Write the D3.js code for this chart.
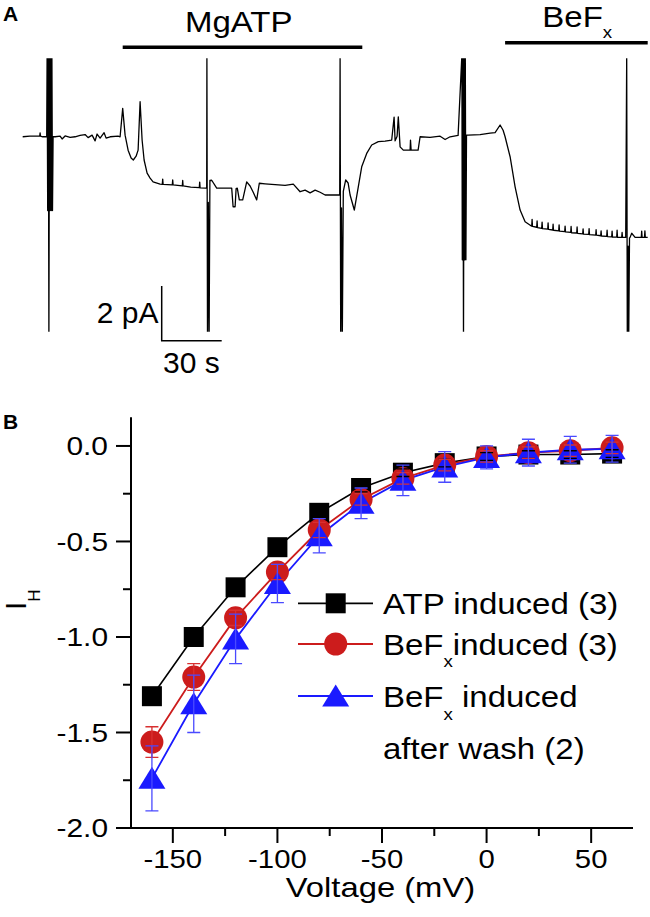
<!DOCTYPE html>
<html><head><meta charset="utf-8">
<script src="https://cdn.jsdelivr.net/npm/d3@7"></script>
<style>
html,body{margin:0;padding:0;background:#fff;}
svg{display:block;font-family:"Liberation Sans",Arial,Helvetica,sans-serif;}
</style></head>
<body>
<svg id="chart" width="650" height="917"></svg>
<script>
// ---------- Panel A: current trace (time s, current pA) ----------
const traceT = [0,3.6,8.5,8.7,8.9,10,12.0,12.2,12.5,12.8,13.1,13.4,13.7,14.0,14.3,14.6,14.9,15.2,16.2,18.7,19.7,21.2,23.7,26.2,28.7,31.2,32.7,34.7,36.2,37.2,38.7,40.7,41.7,43.7,47.7,48.7,
 50,51.2,52.7,54.2,55.3,56.7,57.7,58.7,59.7,60.7,62.2,63.7,65.2,68.7,69.8,70,70.2,74.8,75,75.2,79.8,80,80.2,84,86.2,88.3,88.5,88.7,91.5,
 92.0,92.1,92.4,92.8,93.2,93.6,94.5,97,104.5,105.2,106.2,106.7,107.3,108.3,110,112,113.7,115.2,117,118.3,121.2,126.2,131.2,135.3,138.7,141.2,143.7,146.2,148.7,151.2,153.7,158.5,
 158.7,159.0,159.4,159.8,160.3,161.5,162.7,163.7,165.8,167.8,169.5,172,174.5,177.8,181.2,184.5,185.7,186.2,187.2,187.8,188.7,190.3,193.7,193.9,194.2,197.7,198.7,203.7,208.7,211.2,213.7,217.7,
 219.6,219.8,220.1,220.4,220.7,221.0,221.3,221.6,221.9,222.7,228.7,233.7,236.2,238.7,240.2,241.2,243.7,246.2,248.7,251.2,
 254.5,254.7,254.9,257.0,257.2,257.4,259.5,259.7,259.9,262.5,262.7,262.9,265.0,265.2,265.4,268.0,268.2,268.4,271.0,271.2,271.4,274.0,274.2,274.4,277.0,277.2,277.4,280.0,280.2,280.4,283.0,283.2,283.4,286.5,286.7,286.9,289.0,289.2,289.4,292.0,292.2,292.4,294.5,294.7,294.9,297.0,297.2,297.4,299.5,299.7,299.9,301.5,
 302.0,302.3,302.7,303.0,303.4,303.7,304.5,306.2,309.3,309.5,309.7,310.9,311.1,311.3,312.5];
const traceI = [0,0.02,0.02,0.14,0.02,0,0,3,-2.7,3,-7.5,3,-2.7,3,-2.7,3,-2.7,0,0,0.02,-0.08,0.03,-0.02,0,0.05,0.08,-0.03,0.06,-0.15,0.1,-0.05,0.15,-0.05,0,0.02,0,
 1.04,0.06,-0.49,-0.78,-0.85,-0.71,-0.49,1.28,-0.12,-0.85,-1.33,-1.51,-1.65,-1.73,-1.74,-1.55,-1.74,-1.76,-1.58,-1.76,-1.8,-1.6,-1.8,-1.84,-1.85,-1.86,-1.66,-1.87,-1.88,
 -1.88,3,-7.5,-2.4,-7.5,-1.6,-1.59,-1.88,-1.88,-2.56,-2.56,-1.9,-1.88,-2.31,-2.31,-1.65,-1.8,-2.02,-2.31,-1.7,-1.72,-1.75,-1.78,-1.73,-2.01,-1.95,-2.05,-1.95,-2.03,-2.13,-2.13,-2.13,
 3,-7.5,-2.6,-7.5,-2,-1.58,-1.69,-2.13,-2.68,-1.83,-1.1,-0.61,-0.3,-0.18,-0.16,-0.12,0.72,-0.15,0.02,0.73,-0.37,-0.49,-0.49,-0.12,-0.49,-0.49,0,-0.02,0.02,-0.1,0,0.05,
 3,-4.5,3,-7.5,3,-4.5,3,-4.5,0.06,0.06,0.08,0.13,0.15,0.43,0.24,0,-0.73,-1.83,-2.68,-3.11,
 -3.27,-3.02,-3.28,-3.31,-3.08,-3.32,-3.35,-3.12,-3.36,-3.38,-3.15,-3.39,-3.41,-3.2,-3.42,-3.44,-3.22,-3.45,-3.47,-3.27,-3.48,-3.5,-3.28,-3.51,-3.52,-3.3,-3.53,-3.55,-3.37,-3.56,-3.57,-3.36,-3.58,-3.6,-3.4,-3.6,-3.62,-3.44,-3.63,-3.64,-3.42,-3.65,-3.66,-3.45,-3.67,-3.67,-3.42,-3.68,-3.68,-3.5,-3.68,-3.68,
 3,-7.5,-4,-7.5,-3.7,-3.68,-3.53,-3.68,-3.68,-3.45,-3.68,-3.68,-3.44,-3.68,-3.68];

const bars = [
  {label:"MgATP", sub:"", t0:50, t1:169.8},
  {label:"BeF", sub:"x", t0:241.2, t1:312.5}
];
const scaleBarT = 30, scaleBarI = 2;       // 30 s, 2 pA
const scaleBarOrigin = [69.5, -7.46];      // (s, pA) corner of scale bar

// ---------- Panel B: I-V data ----------
const voltages = [-160,-140,-120,-100,-80,-60,-40,-20,0,20,40,60];
const atpVals  = [-1.31,-1.00,-0.74,-0.53,-0.35,-0.22,-0.14,-0.09,-0.055,-0.045,-0.045,-0.04];
const atpErr   = [0.02,0.02,0.02,0.02,0.02,0.02,0.02,0.02,0.02,0.02,0.02,0.02];
const befVals  = [-1.55,-1.21,-0.90,-0.66,-0.44,-0.28,-0.17,-0.10,-0.055,-0.035,-0.025,-0.01];
const befErr   = [0.08,0.07,0.04,0.04,0.04,0.03,0.03,0.03,0.03,0.03,0.03,0.03];
const washVals = [-1.74,-1.35,-1.01,-0.72,-0.47,-0.30,-0.18,-0.11,-0.06,-0.035,-0.02,-0.015];
const washErr  = [0.17,0.15,0.13,0.10,0.09,0.08,0.08,0.08,0.06,0.07,0.07,0.07];
const xTicks = [-150,-100,-50,0,50];
const xMinor = [-125,-75,-25,25];
const yTicks = [0,-0.5,-1.0,-1.5,-2.0];
const yMinor = [-0.25,-0.75,-1.25,-1.75];
const seriesNames = ["ATP induced (3)","BeFx induced (3)","BeFx induced after wash (2)"];

const svg = d3.select("#chart");

function stext(g, x, y, str, size, sx, anchor, weight){
  const t = g.append("text").attr("transform",`translate(${x},${y}) scale(${sx},1)`)
    .attr("font-size",size).attr("text-anchor",anchor||"start").attr("fill","#000");
  if (weight) t.attr("font-weight",weight);
  t.text(str);
  return t;
}

// ---- Panel A ----
const xA = d3.scaleLinear().domain([0,312.5]).range([22.7,647.7]);
const yA = d3.scaleLinear().domain([-7.13,2.87]).range([331.7,58.3]);
svg.append("defs").append("clipPath").attr("id","clipA").append("rect")
  .attr("x",0).attr("y",yA(2.87)).attr("width",650).attr("height",yA(-7.13)-yA(2.87));

const traceData = traceT.map((t,i)=>[t,traceI[i]]);
svg.append("path").datum(traceData).attr("clip-path","url(#clipA)")
  .attr("d", d3.line().x(d=>xA(d[0])).y(d=>yA(d[1])))
  .attr("fill","none").attr("stroke","#000").attr("stroke-width",1.3).attr("stroke-linejoin","round");

stext(svg, 3, 21, "A", 21, 1, "start", "bold");
const barY = [47.3, 42.7];
bars.forEach((b,i)=>{
  svg.append("line").attr("x1",xA(b.t0)).attr("x2",xA(b.t1)).attr("y1",barY[i]).attr("y2",barY[i])
    .attr("stroke","#000").attr("stroke-width",3.5);
});
stext(svg, 185, 31.7, bars[0].label, 30, 1.1, "start");
{
  const t = svg.append("text").attr("transform","translate(542.3,26.7) scale(1.1,1)").attr("font-size",30);
  t.append("tspan").text(bars[1].label);
  t.append("tspan").attr("font-size",17).attr("dy",11.6).text(bars[1].sub);
}
const sb0x = xA(scaleBarOrigin[0]), sb0y = yA(scaleBarOrigin[1]);
svg.append("path")
  .attr("d",`M${sb0x},${yA(scaleBarOrigin[1]+scaleBarI)}L${sb0x},${sb0y}L${xA(scaleBarOrigin[0]+scaleBarT)},${sb0y}`)
  .attr("fill","none").attr("stroke","#000").attr("stroke-width",1.5);
stext(svg, 158.5, 323.3, `${scaleBarI} pA`, 30, 1, "end");
stext(svg, 163, 373, `${scaleBarT} s`, 30, 1, "start");

// ---- Panel B ----
const xB = d3.scaleLinear().domain([-170,70]).range([131,633]);
const yB = d3.scaleLinear().domain([-2.0,0.15]).range([828,417.3]);
const gB = svg.append("g");
stext(svg, 3, 429, "B", 21, 1, "start", "bold");

gB.append("line").attr("x1",xB(-170)).attr("x2",xB(-170)).attr("y1",yB(0.15)).attr("y2",yB(-2.0)+1)
  .attr("stroke","#000").attr("stroke-width",2);
gB.append("line").attr("x1",xB(-170)-1).attr("x2",xB(70)).attr("y1",yB(-2.0)).attr("y2",yB(-2.0))
  .attr("stroke","#000").attr("stroke-width",2);
xTicks.forEach(v=>{
  gB.append("line").attr("x1",xB(v)).attr("x2",xB(v)).attr("y1",yB(-2)).attr("y2",yB(-2)+15).attr("stroke","#000").attr("stroke-width",2);
  stext(gB, xB(v), 868, String(v), 25.5, 1.15, "middle");
});
xMinor.forEach(v=>{
  gB.append("line").attr("x1",xB(v)).attr("x2",xB(v)).attr("y1",yB(-2)).attr("y2",yB(-2)+8).attr("stroke","#000").attr("stroke-width",2);
});
yTicks.forEach(v=>{
  gB.append("line").attr("x1",xB(-170)).attr("x2",xB(-170)-15).attr("y1",yB(v)).attr("y2",yB(v)).attr("stroke","#000").attr("stroke-width",2);
  stext(gB, 108, yB(v)+9.2, d3.format(".1f")(v).replace("−","-"), 26, 1.15, "end");
});
yMinor.forEach(v=>{
  gB.append("line").attr("x1",xB(-170)).attr("x2",xB(-170)-8).attr("y1",yB(v)).attr("y2",yB(v)).attr("stroke","#000").attr("stroke-width",2);
});
stext(gB, 380.5, 897, "Voltage (mV)", 28, 1.17, "middle");
{
  const t = gB.append("text").attr("transform","translate(26,610) rotate(-90)").attr("font-size",30);
  t.append("tspan").text("I");
  t.append("tspan").attr("font-size",17).attr("dy",14).text("H");
}

const colors = ["#000000","#cc1c1c","#1a1aff"];
const errColors = ["#000000","#d83030","#4a4aff"];
const valsAll = [atpVals, befVals, washVals];
const errAll = [atpErr, befErr, washErr];
const markerPath = [
  "M-10,-10H10V10H-10Z",
  "M-11.5,0A11.5,11.5 0 1,0 11.5,0A11.5,11.5 0 1,0 -11.5,0Z",
  "M0,-11.5L13.5,10.5L-13.5,10.5Z"
];
const line = d3.line().x(d=>xB(d[0])).y(d=>yB(d[1]));
valsAll.forEach((vals,s)=>{
  gB.append("path").datum(voltages.map((v,i)=>[v,vals[i]])).attr("d",line)
    .attr("fill","none").attr("stroke",colors[s]).attr("stroke-width",s===0?1.6:1.8);
});
valsAll.forEach((vals,s)=>{
  voltages.forEach((v,i)=>{
    gB.append("path").attr("d",markerPath[s]).attr("transform",`translate(${xB(v)},${yB(vals[i])})`)
      .attr("fill",colors[s]);
  });
});
valsAll.forEach((vals,s)=>{
  voltages.forEach((v,i)=>{
    const x = xB(v), y1 = yB(vals[i]+errAll[s][i]), y2 = yB(vals[i]-errAll[s][i]);
    gB.append("path").attr("d",`M${x},${y1}V${y2}M${x-6.5},${y1}H${x+6.5}M${x-6.5},${y2}H${x+6.5}`)
      .attr("fill","none").attr("stroke",errColors[s]).attr("stroke-width",1.3);
  });
});

// legend
const legY = [603.3, 644, 696];
legY.forEach((ly,s)=>{
  gB.append("line").attr("x1",298).attr("x2",373).attr("y1",ly).attr("y2",ly).attr("stroke",colors[s]).attr("stroke-width",1.8);
  gB.append("path").attr("d",markerPath[s]).attr("transform",`translate(335.7,${ly})`).attr("fill",colors[s]);
});
stext(gB, 383, 614, seriesNames[0], 30, 1.1, "start");
{
  const t = gB.append("text").attr("transform","translate(383,655) scale(1.1,1)").attr("font-size",30);
  t.append("tspan").text("BeF");
  t.append("tspan").attr("font-size",17).attr("dy",12).text("x");
  t.append("tspan").attr("dy",-12).text("induced (3)");
}
{
  const t = gB.append("text").attr("transform","translate(383,706.7) scale(1.1,1)").attr("font-size",30);
  t.append("tspan").text("BeF");
  t.append("tspan").attr("font-size",17).attr("dy",13).text("x");
  t.append("tspan").attr("dy",-13).text(" induced");
}
stext(gB, 383, 759.3, "after wash (2)", 30, 1.1, "start");
</script>
</body></html>
